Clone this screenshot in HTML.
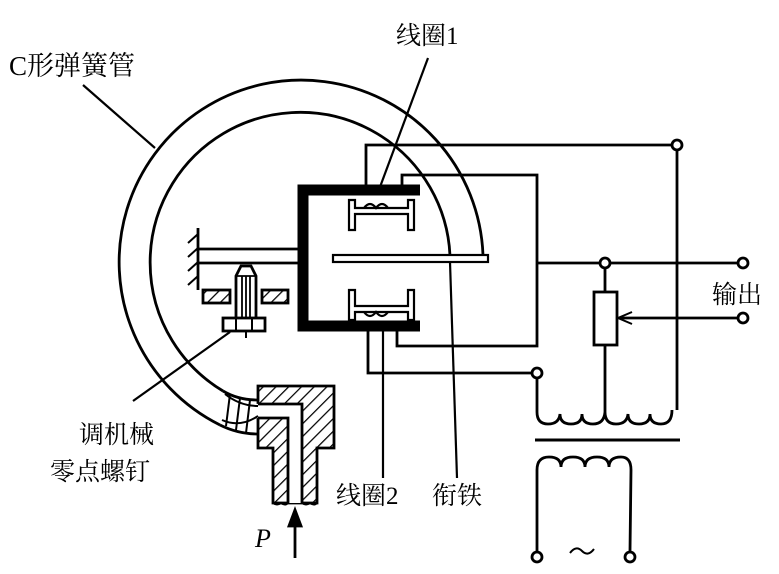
<!DOCTYPE html>
<html><head><meta charset="utf-8"><style>
html,body{margin:0;padding:0;background:#fff}
svg{display:block}
text{font-family:"Liberation Serif","Noto Serif CJK SC",serif;fill:#000}
</style></head><body>
<svg width="779" height="574" viewBox="0 0 779 574" xmlns="http://www.w3.org/2000/svg">
<defs>
<pattern id="h" width="9" height="9" patternUnits="userSpaceOnUse" patternTransform="rotate(45)">
<rect width="9" height="9" fill="#fff"/><line x1="0" y1="0" x2="0" y2="9" stroke="#000" stroke-width="2.5"/>
</pattern>
</defs>
<g fill="none" stroke="#000" stroke-width="2.8">
<!-- C tube -->
<path d="M220,425 A182,182 0 1 1 483,255"/>
<path d="M223,391 A150,150 0 1 1 450,256"/>
<!-- fitting -->
<path d="M258,386 L334,386 L334,448 L317,448 L317,503 L273,503 L273,448 L258,448 Z" fill="url(#h)"/>
<path d="M230,396 Q245,404 260,404 L302,404 L302,503 L288,503 L288,418 L258,418 Q240,420 226,414 Z" fill="#fff" stroke="none"/>
<path d="M258,404 L302,404 L302,503 M258,418 L288,418 L288,503"/>
<!-- tube end to fitting -->
<path d="M223,391 Q238,400 258,400 M220,425 Q238,434 258,434" />
<path d="M225,394 Q240,406 258,406 M222,420 Q240,428 258,416" stroke-width="2"/>
<path d="M230,394 L226,426 M240,398 L236,430 M250,400 L246,433" stroke-width="2"/>
<path d="M273,503 q4,3 8,0 q4,3 7,0 M302,503 q4,3 8,0 q4,3 7,0" stroke-width="2"/>
<!-- arrow P -->
<line x1="295" y1="558" x2="295" y2="516"/>
<path d="M289,526 L295,510 L301,526 Z" fill="#000"/>
<!-- wall and rod -->
<line x1="198" y1="228" x2="198" y2="290"/>
<path d="M198,234 l-10,9 M198,248 l-10,9 M198,262 l-10,9 M198,276 l-10,9" stroke-width="2"/>
<line x1="198" y1="249" x2="298" y2="249"/>
<line x1="198" y1="263" x2="298" y2="263"/>
<!-- plate -->
<rect x="203" y="290" width="27" height="13" fill="url(#h)"/>
<rect x="262" y="290" width="26" height="13" fill="url(#h)"/>
<!-- screw -->
<path d="M236,318 L236,276 L241,266 L251,266 L256,276 L256,318" fill="#fff"/>
<path d="M236,276 L256,276 M242,276 L242,318 M246,276 L246,318 M250,276 L250,318" stroke-width="1.8"/>
<rect x="223" y="318" width="42" height="13" fill="#fff"/>
<path d="M236,318 v13 M252,318 v13 M246,331 v7" stroke-width="2"/>
<!-- magnet -->
<path d="M420,190 L303,190 L303,326 L420,326" stroke-width="11"/>
<!-- coils -->
<path d="M349,230 L349,200 L355,200 L355,208 L408,208 L408,200 L414,200 L414,230 L408,230 L408,214 L355,214 L355,230 Z" stroke-width="2.2"/>
<path d="M364,208 q6,-8 12,0 q6,-8 12,0" stroke-width="2.2"/>
<path d="M349,290 L349,320 L355,320 L355,312 L408,312 L408,320 L414,320 L414,290 L408,290 L408,306 L355,306 L355,290 Z" stroke-width="2.2"/>
<path d="M364,312 q6,8 12,0 q6,8 12,0" stroke-width="2.2"/>
<!-- armature -->
<rect x="333" y="255" width="155" height="7" fill="#fff" stroke-width="2.2"/>
<!-- leaders -->
<line x1="83" y1="85" x2="155" y2="148" stroke-width="2.2"/>
<line x1="428" y1="58" x2="380" y2="187" stroke-width="2.2"/>
<line x1="133" y1="401" x2="230" y2="332" stroke-width="2.2"/>
<line x1="383" y1="331" x2="383" y2="478" stroke-width="2.2"/>
<line x1="450" y1="262" x2="457" y2="478" stroke-width="2.2"/>
<!-- wires -->
<path d="M366,186 L366,145 L671,145"/>
<path d="M402,186 L402,175 L537,175 L537,346 L397,346 L397,331"/>
<path d="M368,331 L368,373 L531,373"/>
<path d="M537,263 L737,263"/>
<path d="M605,263 L605,292 M605,345 L605,412"/>
<rect x="594" y="292" width="23" height="53" fill="#fff"/>
<line x1="737" y1="318" x2="619" y2="318"/>
<path d="M632,312 L618,318 L632,324" stroke-width="2"/>
<path d="M677,151 L677,410"/>
<!-- secondary -->
<path d="M537,379 L537,412 q0,12 11,12 q11,0 12,-10 q0,10 11,10 q11,0 11,-10 q0,10 11,10 q11,0 12,-12 q0,12 11,12 q11,0 12,-10 q0,10 11,10 q11,0 11,-10 q0,10 11,10 q11,0 11,-14"/>
<line x1="535" y1="440" x2="680" y2="440" stroke-width="3"/>
<path d="M537,551 L537,470 q0,-13 12,-13 q12,0 12,10 q0,-10 12,-10 q12,0 12,10 q0,-10 12,-10 q12,0 12,10 q0,-10 12,-10 q10,0 10,13 L630,551"/>
<!-- terminals -->
<circle cx="677" cy="145" r="5" fill="#fff"/>
<circle cx="743" cy="263" r="5" fill="#fff"/>
<circle cx="743" cy="318" r="5" fill="#fff"/>
<circle cx="605" cy="263" r="5" fill="#fff"/>
<circle cx="537" cy="373" r="5" fill="#fff"/>
<circle cx="537" cy="557" r="5" fill="#fff"/>
<circle cx="630" cy="557" r="5" fill="#fff"/>
</g>
<path d="M570,553 q6,-8 12,-2 q6,6 12,-2" fill="none" stroke="#000" stroke-width="2"/>
<text x="9" y="75" font-size="27">C形弹簧管</text>
<text x="396" y="44" font-size="25">线圈1</text>
<text x="712" y="303" font-size="25">输出</text>
<text x="79" y="443" font-size="25">调机械</text>
<text x="50" y="480" font-size="25">零点螺钉</text>
<text x="336" y="504" font-size="25">线圈2</text>
<text x="432" y="504" font-size="25">衔铁</text>
<text x="255" y="547" font-size="26" font-style="italic">P</text>
</svg>
</body></html>
